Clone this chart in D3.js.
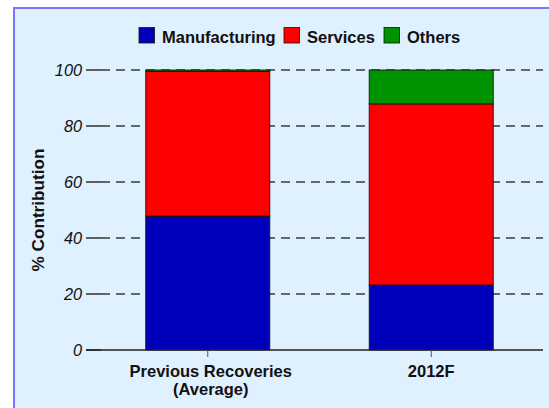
<!DOCTYPE html>
<html>
<head>
<meta charset="utf-8">
<script src="https://cdn.jsdelivr.net/npm/d3@7"></script>
<style>
  html, body { margin: 0; padding: 0; background: #ffffff; }
  svg { display: block; }
  text { font-family: "Liberation Sans", Arial, Helvetica, sans-serif; fill: #111; }
</style>
</head>
<body>
<svg id="chart" width="549" height="408"></svg>
<script>
// ---- data ----
const categories = ["Previous Recoveries\n(Average)", "2012F"];
const seriesNames = ["Manufacturing", "Services", "Others"];
const manufacturing = [47.8, 23.2];
const services = [51.7, 64.7];
const others = [0.5, 12.1];
const yTicks = [0, 20, 40, 60, 80, 100];
const seriesColors = ["#0000bb", "#ff0000", "#009300"];

const svg = d3.select("#chart");
const W = 549, H = 408;

// panel
svg.append("rect").attr("x", 14).attr("y", 8).attr("width", W + 20).attr("height", H + 20)
  .attr("fill", "#dff0fe").attr("stroke", "#7676ff").attr("stroke-width", 2);

const plot = { left: 96, right: 543, top: 70, bottom: 350 };

const x = d3.scaleBand().domain(categories).range([plot.left, plot.right])
  .paddingInner(0.445).paddingOuter(0.2225);
const y = d3.scaleLinear().domain([0, 100]).range([plot.bottom, plot.top]);

// grid + ticks
const gGrid = svg.append("g");
yTicks.forEach(t => {
  if (t > 0) {
    gGrid.append("line").attr("x1", 101).attr("x2", plot.right)
      .attr("y1", y(t)).attr("y2", y(t))
      .attr("stroke", "#3a3a3a").attr("stroke-width", 1.4).attr("stroke-dasharray", "9,6");
  }
  gGrid.append("line").attr("x1", 86).attr("x2", 101)
    .attr("y1", y(t)).attr("y2", y(t))
    .attr("stroke", "#222").attr("stroke-width", 1.4);
  gGrid.append("text").attr("x", 82).attr("y", y(t)).attr("dy", "0.36em")
    .attr("text-anchor", "end").attr("font-style", "italic").attr("font-size", "16.3px")
    .text(t);
});

// stacked bars
const rows = categories.map((c, i) => ({ cat: c, Manufacturing: manufacturing[i], Services: services[i], Others: others[i] }));
const stack = d3.stack().keys(seriesNames)(rows);
const bw = x.bandwidth();
stack.forEach((layer, li) => {
  svg.append("g").selectAll("rect").data(layer).join("rect")
    .attr("x", d => x(d.data.cat))
    .attr("y", d => y(d[1]))
    .attr("width", bw)
    .attr("height", d => y(d[0]) - y(d[1]))
    .attr("fill", seriesColors[li])
    .attr("stroke", "#111").attr("stroke-opacity", 0.85).attr("stroke-width", 1);
});

// baseline axis
svg.append("line").attr("x1", 86).attr("x2", plot.right).attr("y1", y(0)).attr("y2", y(0))
  .attr("stroke", "#222").attr("stroke-width", 1.4);

// x ticks and labels
categories.forEach((c, ci) => {
  const cx = x(c) + bw / 2;
  svg.append("line").attr("x1", cx).attr("x2", cx).attr("y1", y(0)).attr("y2", y(0) + 7)
    .attr("stroke", "#555").attr("stroke-width", 1);
  const lines = c.split("\n");
  const t = svg.append("text").attr("text-anchor", "middle").attr("font-weight", "bold")
    .attr("font-size", "16.5px");
  const off = lines.length > 1 ? 3 : 0;
  lines.forEach((ln, i) => {
    t.append("tspan").attr("x", cx + off).attr("y", 377 + i * 18).text(ln);
  });
});

// y axis title
svg.append("text").attr("transform", `translate(44,${(plot.top + plot.bottom) / 2}) rotate(-90)`)
  .attr("text-anchor", "middle").attr("font-weight", "bold").attr("font-size", "17.2px")
  .text("% Contribution");

// legend
const legendItems = [
  { name: seriesNames[0], color: seriesColors[0], x: 139 },
  { name: seriesNames[1], color: seriesColors[1], x: 284 },
  { name: seriesNames[2], color: seriesColors[2], x: 384 }
];
legendItems.forEach(it => {
  svg.append("rect").attr("x", it.x).attr("y", 27.5).attr("width", 15.5).attr("height", 15.5)
    .attr("fill", it.color).attr("stroke", "#111").attr("stroke-opacity", 0.8).attr("stroke-width", 1);
  svg.append("text").attr("x", it.x + 23).attr("y", 43)
    .attr("font-weight", "bold").attr("font-size", "16.5px").text(it.name);
});
</script>
</body>
</html>
